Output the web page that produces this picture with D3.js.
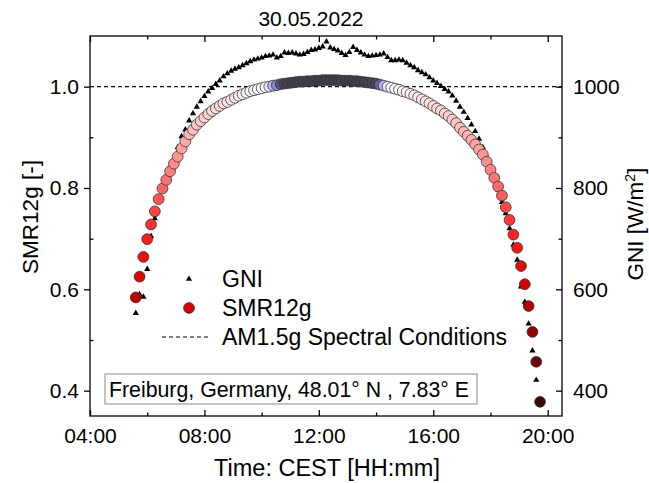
<!DOCTYPE html>
<html><head><meta charset="utf-8">
<script src="https://cdn.jsdelivr.net/npm/d3@7"></script>
<style>
body{margin:0;background:#fff;}
svg{display:block;font-family:"Liberation Sans",Arial,sans-serif;}
</style></head><body>
<svg id="chart" width="649" height="483"></svg>
<script>
const chartTitle = "30.05.2022";
const times = ["05:36","05:44","05:52","06:00","06:08","06:16","06:24","06:32","06:40","06:48","06:56","07:04","07:12","07:20","07:28","07:36","07:44","07:52","08:00","08:08","08:16","08:24","08:32","08:40","08:48","08:56","09:04","09:12","09:20","09:28","09:36","09:44","09:52","10:00","10:08","10:16","10:24","10:32","10:40","10:48","10:56","11:04","11:12","11:20","11:28","11:36","11:44","11:52","12:00","12:08","12:16","12:24","12:32","12:40","12:48","12:56","13:04","13:12","13:20","13:28","13:36","13:44","13:52","14:00","14:08","14:16","14:24","14:32","14:40","14:48","14:56","15:04","15:12","15:20","15:28","15:36","15:44","15:52","16:00","16:08","16:16","16:24","16:32","16:40","16:48","16:56","17:04","17:12","17:20","17:28","17:36","17:44","17:52","18:00","18:08","18:16","18:24","18:32","18:40","18:48","18:56","19:04","19:12","19:20","19:28","19:36","19:44"];
const smr12g = [0.584,0.625,0.664,0.699,0.728,0.754,0.778,0.799,0.816,0.833,0.848,0.862,0.878,0.892,0.906,0.915,0.925,0.932,0.939,0.946,0.952,0.957,0.962,0.967,0.970,0.974,0.978,0.982,0.985,0.988,0.991,0.993,0.995,0.997,0.999,1.000,1.002,1.003,1.005,1.006,1.007,1.008,1.009,1.010,1.010,1.011,1.011,1.012,1.012,1.013,1.013,1.013,1.013,1.013,1.012,1.012,1.012,1.011,1.011,1.010,1.009,1.008,1.007,1.006,1.004,1.002,1.000,0.998,0.996,0.994,0.991,0.989,0.986,0.983,0.979,0.975,0.971,0.967,0.962,0.957,0.953,0.947,0.942,0.935,0.928,0.919,0.911,0.903,0.895,0.886,0.876,0.866,0.852,0.836,0.820,0.803,0.785,0.762,0.737,0.708,0.682,0.646,0.610,0.567,0.516,0.457,0.378];
const gni = [553,590,585,640,705,740,775,797,815,833,852,880,902,915,933,947,960,971,981,990,997,1005,1012,1020,1026,1031,1035,1038,1042,1046,1050,1053,1055,1057,1060,1061,1063,1057,1060,1067,1066,1067,1065,1063,1064,1068,1072,1073,1076,1079,1089,1077,1074,1071,1066,1062,1068,1078,1072,1067,1063,1060,1061,1062,1063,1065,1058,1052,1052,1053,1052,1047,1042,1038,1032,1028,1024,1018,1012,1007,1001,995,990,982,972,960,950,938,925,912,897,880,862,840,818,797,772,750,720,688,658,605,575,532,479,421,null];
const xTickLabels = ["04:00","08:00","12:00","16:00","20:00"];
const xMinorLabels = ["06:00","10:00","14:00","18:00"];
const smrTicks = [0.4,0.6,0.8,1.0];
const smrMinor = [0.5,0.7,0.9];
const gniTicks = [400,600,800,1000];
const gniMinor = [500,700,900];
const referenceLevel = 1.0;
const legendLabels = ["GNI","SMR12g","AM1.5g Spectral Conditions"];
const locationText = "Freiburg, Germany, 48.01° N , 7.83° E";
const xTitle = "Time: CEST [HH:mm]";
const yLeftTitle = "SMR12g [-]";
const yRightTitleParts = ["GNI [W/m", "2", "]"];

const toH = s => { const [h,m] = s.split(":").map(Number); return h + m/60; };
const fmtH = h => String(Math.floor(h)).padStart(2,"0") + ":" + String(Math.round((h%1)*60)).padStart(2,"0");

const svg = d3.select("#chart");
const L = 90, R = 562, T = 36, B = 416;
const x = d3.scaleLinear().domain([4, 20.5]).range([L, R]);
const yL = d3.scaleLinear().domain([0.35, 1.1]).range([B, T]);
const yR = d3.scaleLinear().domain([350, 1100]).range([B, T]);
const color = d3.scaleLinear()
  .domain([0.378, 0.6, 0.7, 0.85, 0.97, 0.999, 1.002, 1.004, 1.006, 1.015])
  .range(["#3a0505", "#c80000", "#ff1a1a", "#ff8c8c", "#ffe4e4", "#ffffff", "#b4b4f0", "#6464b0", "#444452", "#3c3c46"]);

const FS = 21;
// axes
const gB = svg.append("g").attr("transform", `translate(0,${B})`)
  .call(d3.axisBottom(x).tickValues(xTickLabels.map(toH)).tickSize(-6).tickPadding(12).tickFormat(fmtH));
gB.append("g").call(d3.axisBottom(x).tickValues(xMinorLabels.map(toH)).tickSize(-3.5).tickFormat(""));
const gT = svg.append("g").attr("transform", `translate(0,${T})`)
  .call(d3.axisTop(x).tickValues(xTickLabels.map(toH)).tickSize(-6).tickFormat(""));
gT.append("g").call(d3.axisTop(x).tickValues(xMinorLabels.map(toH)).tickSize(-3.5).tickFormat(""));
const gL = svg.append("g").attr("transform", `translate(${L},0)`)
  .call(d3.axisLeft(yL).tickValues(smrTicks).tickSize(6).tickPadding(5).tickFormat(d3.format(".1f")));
gL.append("g").call(d3.axisLeft(yL).tickValues(smrMinor).tickSize(-3.5).tickFormat(""));
const gR = svg.append("g").attr("transform", `translate(${R},0)`)
  .call(d3.axisRight(yR).tickValues(gniTicks).tickSize(-6).tickPadding(11).tickFormat(d3.format("d")));
gR.append("g").call(d3.axisRight(yR).tickValues(gniMinor).tickSize(-3.5).tickFormat(""));
[gB,gT,gL,gR].forEach(g => {
  g.selectAll(".domain").remove();
  g.selectAll("line").attr("stroke","#000").attr("stroke-width",1.3);
  g.selectAll("text").attr("font-size",FS).attr("fill","#000").attr("font-family","Liberation Sans, Arial, sans-serif");
});

// reference dashed line
svg.append("line").attr("x1",L).attr("x2",R).attr("y1",yL(referenceLevel)).attr("y2",yL(referenceLevel))
  .attr("stroke","#000").attr("stroke-width",1.2).attr("stroke-dasharray","4,3");

// GNI triangles
const tri = d3.symbol().type(d3.symbolTriangle).size(17);
svg.append("g").selectAll("path").data(times.map((t,i)=>({t:toH(t), v:gni[i]})).filter(d=>d.v!=null))
  .join("path").attr("d", tri)
  .attr("transform", d => `translate(${x(d.t)},${yR(d.v)})`).attr("fill","#000");

// SMR circles
svg.append("g").selectAll("circle").data(times.map((t,i)=>({t:toH(t), v:smr12g[i]})))
  .join("circle").attr("cx", d=>x(d.t)).attr("cy", d=>yL(d.v)).attr("r",5.4)
  .attr("fill", d=>color(d.v)).attr("stroke","#333").attr("stroke-width",0.8);

// frame
svg.append("rect").attr("x",L).attr("y",T).attr("width",R-L).attr("height",B-T)
  .attr("fill","none").attr("stroke","#000").attr("stroke-width",1.3);

// legend
const lg = svg.append("g").attr("font-size",23);
const lx = 189, ly = [279, 308, 337];
lg.append("path").attr("d", tri).attr("transform",`translate(${lx},${ly[0]})`).attr("fill","#000");
lg.append("circle").attr("cx",lx).attr("cy",ly[1]).attr("r",5.4).attr("fill",color(0.62)).attr("stroke","#333").attr("stroke-width",0.8);
lg.append("line").attr("x1",162).attr("x2",211).attr("y1",ly[2]).attr("y2",ly[2]).attr("stroke","#000").attr("stroke-width",1.2).attr("stroke-dasharray","4,3");
legendLabels.forEach((s,i)=> lg.append("text").attr("x",222).attr("y",ly[i]).attr("dy","0.36em").text(s));

// location box
const bx = svg.append("g");
bx.append("rect").attr("x",105).attr("y",374).attr("width",372).attr("height",30)
  .attr("fill","#fff").attr("stroke","#8a8a8a").attr("stroke-width",1);
bx.append("text").attr("x",109).attr("y",389).attr("dy","0.36em").attr("font-size",21.3).text(locationText);

// titles
svg.append("text").attr("x",311).attr("y",18).attr("dy","0.36em").attr("text-anchor","middle").attr("font-size",21).text(chartTitle);
svg.append("text").attr("x",327).attr("y",468).attr("dy","0.36em").attr("text-anchor","middle").attr("font-size",23.5).text(xTitle);
svg.append("text").attr("transform","translate(30,217) rotate(-90)").attr("dy","0.36em").attr("text-anchor","middle").attr("font-size",22.5).text(yLeftTitle);
const rt = svg.append("text").attr("transform","translate(635,224) rotate(-90)").attr("dy","0.36em").attr("text-anchor","middle").attr("font-size",22.5);
rt.append("tspan").text(yRightTitleParts[0]);
rt.append("tspan").attr("font-size",14).attr("dy","-0.55em").text(yRightTitleParts[1]);
rt.append("tspan").attr("dy","0.33em").text(yRightTitleParts[2]);
</script>
</body></html>
